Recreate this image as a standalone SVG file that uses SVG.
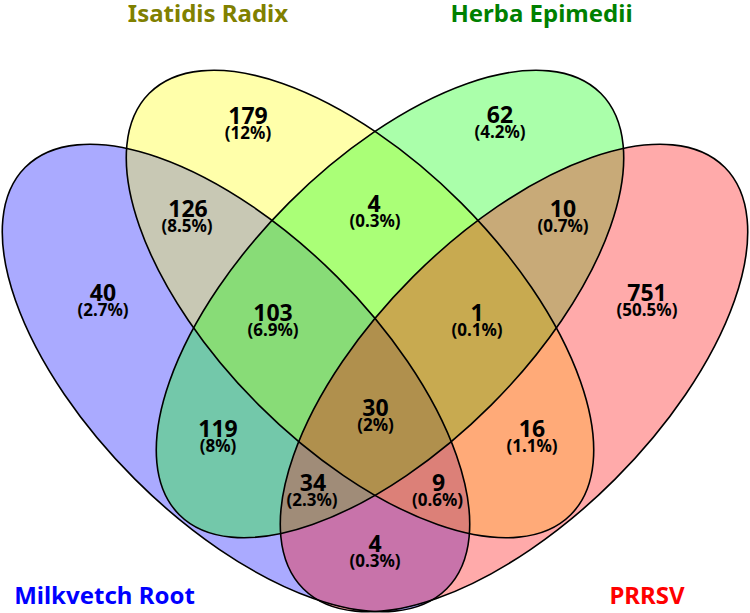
<svg xmlns="http://www.w3.org/2000/svg" xmlns:xlink="http://www.w3.org/1999/xlink" width="750" height="613" viewBox="0 0 750 613">
<style>
.n{font-family:"Noto Sans","Open Sans","DejaVu Sans",sans-serif;font-weight:bold;font-size:23px;fill:#000;text-anchor:middle}
.p{font-size:17px}
.t{font-family:"Noto Sans","Open Sans","DejaVu Sans",sans-serif;font-weight:bold;font-size:24px;text-anchor:middle}
.o{fill:none;stroke:#000;stroke-width:1.6}
</style>
<defs>
<ellipse id="eB" cx="0" cy="0" rx="298" ry="143" transform="translate(236 378) rotate(45)"/>
<ellipse id="eY" cx="0" cy="0" rx="298" ry="143" transform="translate(360 304) rotate(45)"/>
<ellipse id="eG" cx="0" cy="0" rx="298" ry="143" transform="translate(390 304) rotate(-45)"/>
<ellipse id="eR" cx="0" cy="0" rx="298" ry="143" transform="translate(514 378) rotate(-45)"/>
<clipPath id="cB"><use xlink:href="#eB"/></clipPath>
<clipPath id="cY"><use xlink:href="#eY"/></clipPath>
<clipPath id="cG"><use xlink:href="#eG"/></clipPath>
</defs>
<rect width="750" height="613" fill="#fff"/>
<g id="regions">
<use xlink:href="#eB" fill="#aaaaff"/>
<use xlink:href="#eY" fill="#ffffaa"/>
<use xlink:href="#eG" fill="#aaffaa"/>
<use xlink:href="#eR" fill="#ffaaaa"/>
<g clip-path="url(#cB)"><use xlink:href="#eY" fill="#c8c8b4"/></g>
<g clip-path="url(#cB)"><use xlink:href="#eG" fill="#73c8aa"/></g>
<g clip-path="url(#cB)"><use xlink:href="#eR" fill="#c873aa"/></g>
<g clip-path="url(#cY)"><use xlink:href="#eG" fill="#aaff77"/></g>
<g clip-path="url(#cY)"><use xlink:href="#eR" fill="#ffaa78"/></g>
<g clip-path="url(#cG)"><use xlink:href="#eR" fill="#c8aa78"/></g>
<g clip-path="url(#cB)"><g clip-path="url(#cY)"><use xlink:href="#eG" fill="#88dc77"/></g></g>
<g clip-path="url(#cB)"><g clip-path="url(#cY)"><use xlink:href="#eR" fill="#dc8078"/></g></g>
<g clip-path="url(#cB)"><g clip-path="url(#cG)"><use xlink:href="#eR" fill="#a08c78"/></g></g>
<g clip-path="url(#cY)"><g clip-path="url(#cG)"><use xlink:href="#eR" fill="#c8aa50"/></g></g>
<g clip-path="url(#cB)"><g clip-path="url(#cY)"><g clip-path="url(#cG)"><use xlink:href="#eR" fill="#b0904d"/></g></g></g>
</g>
<g id="set-milkvetch">
<use xlink:href="#eB" class="o"/>
<text class="t" x="104.5" y="604" fill="#0000ff">Milkvetch Root</text>
</g>
<g id="set-isatidis">
<use xlink:href="#eY" class="o"/>
<text class="t" x="208" y="22" fill="#808000">Isatidis Radix</text>
</g>
<g id="set-epimedii">
<use xlink:href="#eG" class="o"/>
<text class="t" x="541.5" y="22" fill="#008000">Herba Epimedii</text>
</g>
<g id="set-prrsv">
<use xlink:href="#eR" class="o"/>
<text class="t" x="647" y="604" fill="#ff0000">PRRSV</text>
</g>
<g id="counts">
<text class="n" x="248" y="124">179<tspan class="p" x="248" dy="15">(12%)</tspan></text>
<text class="n" x="500" y="123">62<tspan class="p" x="500" dy="15">(4.2%)</tspan></text>
<text class="n" x="188" y="217">126<tspan class="p" x="187" dy="15">(8.5%)</tspan></text>
<text class="n" x="374" y="212">4<tspan class="p" x="375" dy="15">(0.3%)</tspan></text>
<text class="n" x="563" y="217">10<tspan class="p" x="563" dy="15">(0.7%)</tspan></text>
<text class="n" x="103" y="300.5">40<tspan class="p" x="103" dy="15">(2.7%)</tspan></text>
<text class="n" x="647" y="300.5">751<tspan class="p" x="647" dy="15">(50.5%)</tspan></text>
<text class="n" x="273" y="320.5">103<tspan class="p" x="273" dy="15">(6.9%)</tspan></text>
<text class="n" x="477" y="320.5">1<tspan class="p" x="477" dy="15">(0.1%)</tspan></text>
<text class="n" x="375.5" y="416">30<tspan class="p" x="375.5" dy="15">(2%)</tspan></text>
<text class="n" x="218" y="436.5">119<tspan class="p" x="218" dy="15">(8%)</tspan></text>
<text class="n" x="532" y="436.5">16<tspan class="p" x="532" dy="15">(1.1%)</tspan></text>
<text class="n" x="313" y="491">34<tspan class="p" x="312" dy="15">(2.3%)</tspan></text>
<text class="n" x="438.5" y="491">9<tspan class="p" x="437.5" dy="15">(0.6%)</tspan></text>
<text class="n" x="375" y="551.5">4<tspan class="p" x="375" dy="15">(0.3%)</tspan></text>
</g>
</svg>
